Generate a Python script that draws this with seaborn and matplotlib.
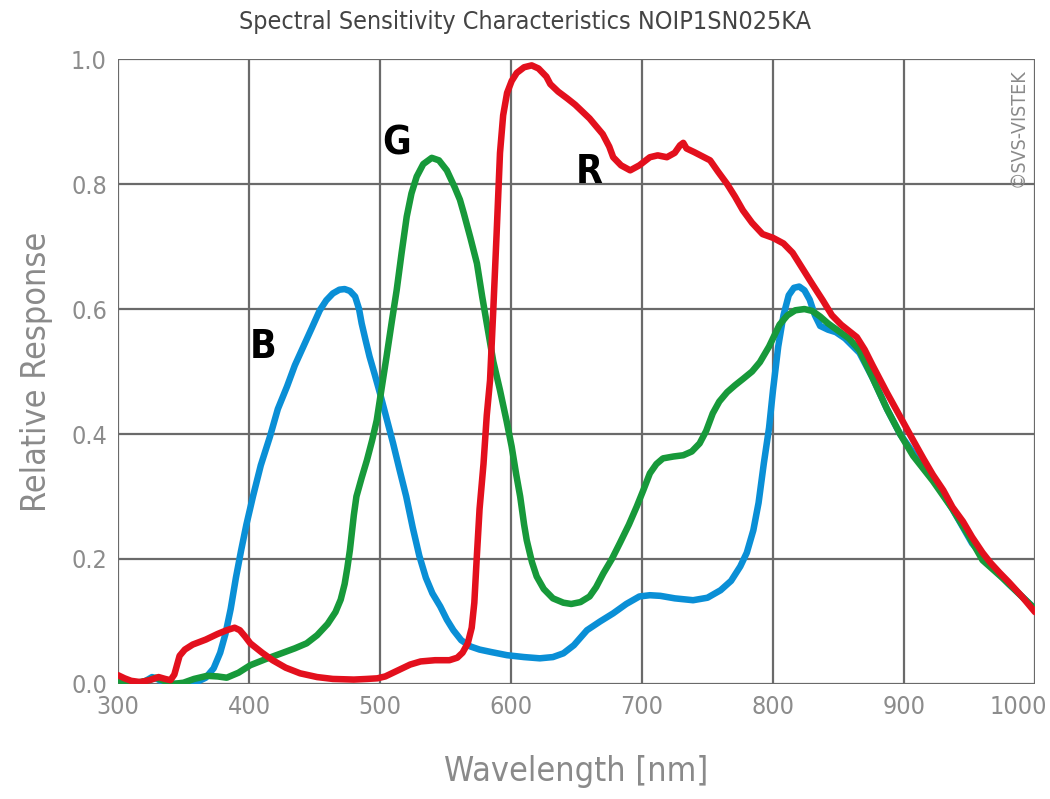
#!/usr/bin/env python3
"""Spectral sensitivity curves (B, G, R) for the NOIP1SN025KA sensor."""

import matplotlib
matplotlib.use("Agg")
import matplotlib.pyplot as plt
import matplotlib.transforms as mtransforms
import pandas as pd
import seaborn as sns

# Blue channel
blue_nm = [300, 305, 310, 316, 322, 326, 330, 335, 340, 350, 360, 367, 373,
           378, 382, 386, 390, 394, 398, 403, 409, 416, 422, 429, 435, 441.5,
           448, 454, 459, 464, 469, 473, 477, 481, 484, 486, 489, 492, 496,
           500, 505, 510, 515, 520, 525, 530, 535, 540, 546, 551, 556, 562,
           569, 576, 585, 597, 610, 622, 632, 640, 648, 658, 668, 678, 688,
           698, 706, 714, 725, 739, 750, 760, 768, 775, 780, 785, 789, 793,
           797, 800, 804, 808, 812, 816, 820, 824, 828, 832, 836, 842, 848,
           855, 866, 876, 887, 897, 907, 922, 937, 952, 966, 980, 990, 1000]
blue_val = [0.012, 0.006, 0.002, 0.0, 0.006, 0.011, 0.008, 0.002, 0.0, 0.0,
            0.003, 0.01, 0.025, 0.05, 0.08, 0.12, 0.17, 0.214, 0.255, 0.30,
            0.35, 0.396, 0.44, 0.476, 0.51, 0.54, 0.57, 0.598, 0.614, 0.625,
            0.631, 0.632, 0.629, 0.62, 0.60, 0.577, 0.55, 0.524, 0.495, 0.465,
            0.425, 0.385, 0.342, 0.30, 0.25, 0.205, 0.17, 0.145, 0.124, 0.103,
            0.086, 0.07, 0.06, 0.055, 0.051, 0.046, 0.043, 0.041, 0.043,
            0.049, 0.062, 0.086, 0.10, 0.113, 0.128, 0.14, 0.142, 0.141,
            0.137, 0.134, 0.138, 0.15, 0.165, 0.188, 0.21, 0.246, 0.29, 0.353,
            0.41, 0.47, 0.54, 0.59, 0.622, 0.634, 0.636, 0.63, 0.615, 0.59,
            0.573, 0.567, 0.563, 0.553, 0.53, 0.49, 0.44, 0.40, 0.37, 0.33,
            0.28, 0.225, 0.19, 0.16, 0.14, 0.12]

# Green channel
green_nm = [300, 307, 314, 322, 329, 335, 342, 350, 358, 368, 376, 383, 392,
            401, 413, 426, 435, 444, 452, 460, 466, 470, 473, 475, 477, 480,
            482, 486, 490, 494, 497.5, 501, 505, 509, 512.7, 516.5, 520.4,
            524, 528, 533, 539.5, 545, 551, 557, 561, 564, 569, 574, 578,
            581.5, 586.5, 591.6, 596.7, 600.5, 604, 607, 610, 612, 616, 619.6,
            625, 632, 640, 646, 653, 660, 665, 670.5, 677, 683, 690, 696, 701,
            706, 711, 716, 724, 731.5, 738, 744, 749, 754, 759, 765, 771, 777,
            784, 790, 797, 805, 811, 817, 824, 830, 836, 842, 850, 858, 866,
            876, 887, 897, 907, 922, 937, 950, 960, 975, 990, 1000]
green_val = [0.006, 0.003, 0.002, 0.005, 0.01, 0.005, 0.0, 0.002, 0.008,
             0.013, 0.012, 0.01, 0.018, 0.03, 0.04, 0.05, 0.057, 0.065, 0.078,
             0.096, 0.115, 0.135, 0.16, 0.185, 0.214, 0.27, 0.30, 0.33, 0.358,
             0.39, 0.422, 0.47, 0.524, 0.58, 0.63, 0.69, 0.748, 0.785, 0.812,
             0.832, 0.842, 0.838, 0.822, 0.795, 0.775, 0.753, 0.714, 0.673,
             0.62, 0.577, 0.516, 0.47, 0.42, 0.38, 0.335, 0.30, 0.255, 0.23,
             0.195, 0.172, 0.152, 0.137, 0.13, 0.128, 0.131, 0.14, 0.155,
             0.177, 0.20, 0.225, 0.255, 0.284, 0.31, 0.337, 0.352, 0.361,
             0.364, 0.366, 0.372, 0.385, 0.405, 0.433, 0.452, 0.467, 0.478,
             0.488, 0.50, 0.515, 0.54, 0.575, 0.59, 0.598, 0.60, 0.597, 0.588,
             0.577, 0.565, 0.553, 0.534, 0.49, 0.44, 0.40, 0.365, 0.325, 0.28,
             0.235, 0.198, 0.17, 0.14, 0.12]

# Red channel
red_nm = [300, 305, 310, 317, 324, 331, 336, 340, 343, 347, 351, 357, 367,
          376, 383, 389, 393, 397, 401, 410, 418, 428, 439, 452, 464, 480,
          490, 498, 504, 510, 515, 523, 531, 542, 553, 559, 563, 567, 570,
          572, 573.8, 576, 579, 581.5, 584, 586.5, 589, 591.6, 594, 597,
          600.5, 604.4, 610, 615.8, 621, 627, 630, 636, 643, 649, 655, 660,
          664, 670, 675, 678, 684, 691, 698, 706, 712, 719, 725, 729, 731.5,
          734, 740, 752, 758, 765, 771, 777, 784, 792, 800, 808, 815, 821,
          830, 838, 845, 852, 858, 864, 870, 876, 887, 897, 907, 915, 922,
          930, 937, 945, 952, 960, 966, 973, 980, 990, 1000]
red_val = [0.014, 0.009, 0.005, 0.003, 0.006, 0.011, 0.008, 0.006, 0.015,
           0.045, 0.055, 0.063, 0.071, 0.08, 0.086, 0.09, 0.086, 0.076, 0.065,
           0.05, 0.038, 0.026, 0.017, 0.011, 0.008, 0.007, 0.008, 0.009,
           0.012, 0.018, 0.023, 0.031, 0.036, 0.038, 0.038, 0.042, 0.05,
           0.065, 0.09, 0.13, 0.20, 0.28, 0.352, 0.43, 0.486, 0.60, 0.72,
           0.85, 0.91, 0.946, 0.965, 0.978, 0.987, 0.99, 0.985, 0.972, 0.96,
           0.948, 0.937, 0.927, 0.915, 0.905, 0.895, 0.88, 0.86, 0.843, 0.83,
           0.822, 0.83, 0.843, 0.846, 0.843, 0.85, 0.862, 0.866, 0.857,
           0.851, 0.838, 0.82, 0.80, 0.78, 0.758, 0.738, 0.72, 0.714, 0.705,
           0.69, 0.67, 0.64, 0.614, 0.59, 0.575, 0.565, 0.555, 0.535, 0.51,
           0.466, 0.428, 0.39, 0.36, 0.335, 0.31, 0.283, 0.26, 0.235, 0.21,
           0.194, 0.178, 0.163, 0.14, 0.115]

x_ticks = [300, 400, 500, 600, 700, 800, 900, 1000]
y_ticks = [0.0, 0.2, 0.4, 0.6, 0.8, 1.0]

channels = [("B", blue_nm, blue_val, "#0a8fd6", 411, 0.54),
            ("G", green_nm, green_val, "#17993a", 513, 0.865),
            ("R", red_nm, red_val, "#e3101d", 660, 0.82)]

sns.set_theme(style="white")
plt.rcParams['font.family'] = ['DejaVu Sans']
plt.rcParams['font.stretch'] = 'condensed'

fig = plt.figure(figsize=(10.5, 7.99), dpi=100)
ax = fig.add_axes([0.1124, 0.144, 0.8733, 0.782])

for name, nm, val, color, lx, ly in channels:
    df = pd.DataFrame({"nm": nm, "val": val})
    sns.lineplot(data=df, x="nm", y="val", ax=ax, color=color, lw=4.7,
                 estimator=None, sort=False, solid_capstyle="round",
                 solid_joinstyle="round", zorder=3)
    ax.text(lx, ly, name, fontsize=28, fontweight="bold", color="black",
            ha="center", va="center", zorder=4)

ax.set(xlim=(300, 1000), ylim=(0, 1.0), xticks=x_ticks, yticks=y_ticks)
ax.set_yticklabels([f"{v:.1f}" for v in y_ticks])
ax.grid(True, color="#6a6a6a", lw=1.6, zorder=0)
ax.set_axisbelow(True)
for s in ax.spines.values():
    s.set_visible(False)
ax.tick_params(axis="both", length=0, labelsize=18, labelcolor="#8c8c8c",
               pad=8)

# keep the last x tick label inside the figure, as in the original
last = ax.get_xticklabels()[-1]
last.set_transform(last.get_transform() +
                   mtransforms.ScaledTranslation(-17 / 100, 0,
                                                 fig.dpi_scale_trans))

ax.set_xlabel("Wavelength [nm]", fontsize=24.5, color="#8a8a8a", labelpad=26)
ax.set_ylabel("Relative Response", fontsize=24.5, color="#8a8a8a", labelpad=13)
fig.text(0.5, 0.972, "Spectral Sensitivity Characteristics NOIP1SN025KA",
         fontsize=18, color="#444444", ha="center", va="center")
ax.text(0.992, 0.985, "©SVS-VISTEK", transform=ax.transAxes, rotation=90,
        fontsize=14, color="#8a8a8a", ha="right", va="top")

fig.savefig("out.png", dpi=100)
